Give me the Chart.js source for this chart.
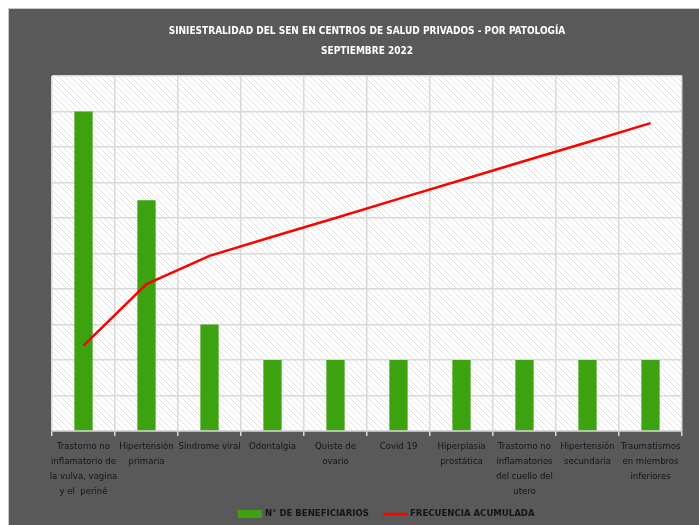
<!DOCTYPE html>
<html>
<head>
<meta charset="utf-8">
<script src="https://cdn.jsdelivr.net/npm/chart.js@4.4.1/dist/chart.umd.min.js"></script>
<style>
  html, body { margin: 0; padding: 0; background: #ffffff; }
  #frame {
    position: absolute; left: 8px; top: 8px;
    width: 690px; height: 516px;
    border-top: 1px solid #c8c8c8; border-left: 1px solid #c8c8c8;
    background: #595959;
  }
  #frame canvas { display: block; }
</style>
</head>
<body>
<div id="frame"><canvas id="chart" width="690" height="516"></canvas></div>
<script>
// Data
const categories = [
    ['Trastorno no', 'inflamatorio de', 'la vulva, vagina', 'y el  periné'],
    ['Hipertensión', 'primaria'],
    ['Síndrome viral'],
    ['Odontalgia'],
    ['Quiste de', 'ovario'],
    ['Covid 19'],
    ['Hiperplasia', 'prostática'],
    ['Trastorno no', 'inflamatorios', 'del cuello del', 'utero'],
    ['Hipertensión', 'secundaria'],
    ['Traumatismos', 'en miembros', 'inferiores']
];
const beneficiarios = [18, 13, 6, 4, 4, 4, 4, 4, 4, 4];
const frecuenciaAcumulada = [27.7, 47.7, 56.9, 63.1, 69.2, 75.4, 81.5, 87.7, 93.8, 100];

const FONT = "'DejaVu Sans Condensed', 'Liberation Sans', sans-serif";
const TEXT_DARK = '#141414';
const GRID = '#d9d9d9';

// Hatched background for the plot area
function makeHatch(ctx) {
    const c = document.createElement('canvas');
    c.width = 6; c.height = 6;
    const p = c.getContext('2d');
    p.fillStyle = '#ffffff';
    p.fillRect(0, 0, 6, 6);
    p.strokeStyle = '#e1e1e1';
    p.lineWidth = 1;
    p.beginPath();
    p.moveTo(0, 0); p.lineTo(6, 6);
    p.moveTo(-3, 3); p.lineTo(3, 9);
    p.moveTo(3, -3); p.lineTo(9, 3);
    p.stroke();
    return ctx.createPattern(c, 'repeat');
}

const plotBackground = {
    id: 'plotBackground',
    beforeDraw(chart) {
        const { ctx, chartArea: a } = chart;
        ctx.save();
        ctx.fillStyle = makeHatch(ctx);
        ctx.fillRect(a.left, a.top, a.right - a.left, a.bottom - a.top);
        ctx.restore();
    }
};

// Legend drawn at the bottom (box for bars, line for the line series)
const bottomLegend = {
    id: 'bottomLegend',
    afterDraw(chart) {
        const ctx = chart.ctx;
        const bars = chart.data.datasets.find(d => d.type === 'bar');
        const line = chart.data.datasets.find(d => d.type === 'line');
        const y = 505;
        ctx.save();
        ctx.font = 'bold 9.5px ' + FONT;
        ctx.textBaseline = 'middle';

        ctx.fillStyle = bars.backgroundColor;
        ctx.fillRect(229, y - 4, 24, 8);
        ctx.fillStyle = TEXT_DARK;
        ctx.fillText(bars.label, 256, y);

        ctx.strokeStyle = line.borderColor;
        ctx.lineWidth = 2.5;
        ctx.beginPath();
        ctx.moveTo(374, y); ctx.lineTo(399, y);
        ctx.stroke();
        ctx.fillText(line.label, 401, y);
        ctx.restore();
    }
};

const ctx = document.getElementById('chart').getContext('2d');
const chart = new Chart(ctx, {
    data: {
        labels: categories,
        datasets: [{
            type: 'line',
            label: 'FRECUENCIA ACUMULADA',
            data: frecuenciaAcumulada,
            yAxisID: 'y1',
            borderColor: '#ff0000',
            backgroundColor: '#ff0000',
            borderWidth: 2.5,
            pointRadius: 0,
            tension: 0,
            order: 0
        }, {
            type: 'bar',
            label: 'N° DE BENEFICIARIOS',
            data: beneficiarios,
            yAxisID: 'y',
            backgroundColor: '#3ca20f',
            borderWidth: 0,
            categoryPercentage: 1,
            barPercentage: 0.29,
            order: 1
        }]
    },
    options: {
        responsive: false,
        animation: false,
        layout: { padding: { left: 43, right: 17, top: 0, bottom: 22 } },
        plugins: {
            legend: { display: false },
            tooltip: { enabled: false },
            title: {
                display: true,
                text: ['SINIESTRALIDAD DEL SEN EN CENTROS DE SALUD PRIVADOS - POR PATOLOGÍA', 'SEPTIEMBRE 2022'],
                color: '#ffffff',
                font: { family: FONT, size: 10, weight: 'bold', lineHeight: 2 },
                padding: { top: 12, bottom: 15 }
            }
        },
        scales: {
            x: {
                offset: true,
                grid: { color: GRID, lineWidth: 1.5, offset: true, tickLength: 5, drawOnChartArea: true },
                border: { color: GRID, width: 1.5 },
                ticks: {
                    color: TEXT_DARK,
                    font: { family: FONT, size: 9.5, lineHeight: 1.58 },
                    maxRotation: 0, autoSkip: false, padding: 3
                },
                afterFit(scale) { scale.height = 72; }
            },
            y: {
                min: 0, max: 20,
                ticks: { display: false, stepSize: 2 },
                grid: { color: GRID, lineWidth: 1.5, drawTicks: false },
                border: { display: false },
                afterFit(scale) { scale.width = 0; }
            },
            y1: {
                display: false,
                min: 0, max: 115.3
            }
        }
    },
    plugins: [plotBackground, bottomLegend]
});
</script>
</body>
</html>
